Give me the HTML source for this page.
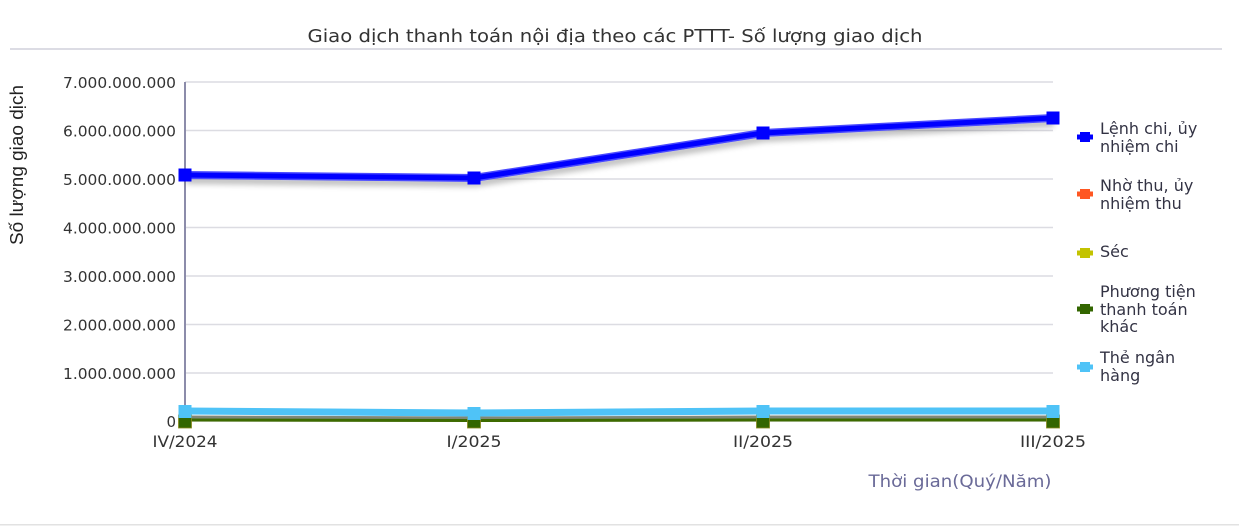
<!DOCTYPE html>
<html><head><meta charset="utf-8"><style>
html,body{margin:0;padding:0;background:#fff;width:1239px;height:530px;overflow:hidden}
svg{display:block}
text{font-family:"DejaVu Sans","Liberation Sans",sans-serif}
</style></head><body>
<svg width="1239" height="530" viewBox="0 0 1239 530" xmlns="http://www.w3.org/2000/svg">
<defs>
<filter id="sh" x="-5%" y="-50%" width="110%" height="300%">
<feGaussianBlur in="SourceAlpha" stdDeviation="3"/>
<feOffset dx="1" dy="5" result="b"/>
<feComponentTransfer><feFuncA type="linear" slope="0.25"/></feComponentTransfer>
<feMerge><feMergeNode/><feMergeNode in="SourceGraphic"/></feMerge>
</filter>
</defs>
<!-- title -->
<text x="615" y="42" font-size="18" fill="#333" text-anchor="middle" textLength="615" lengthAdjust="spacingAndGlyphs">Giao dịch thanh toán nội địa theo các PTTT- Số lượng giao dịch</text>
<rect x="10" y="48" width="1212" height="2" fill="#dcdce4"/>
<rect x="0" y="524" width="1239" height="1.5" fill="#e2e2e2"/>
<!-- y title -->
<text transform="translate(23,165) rotate(-90)" style="font-family:'Liberation Sans',sans-serif" font-size="18" fill="#222" text-anchor="middle" textLength="160" lengthAdjust="spacingAndGlyphs">Số lượng giao dịch</text>
<!-- grid -->
<g stroke="#dcdce2" stroke-width="1.5">
<line x1="185" y1="82" x2="1053" y2="82"/>
<line x1="185" y1="130.5" x2="1053" y2="130.5"/>
<line x1="185" y1="179" x2="1053" y2="179"/>
<line x1="185" y1="227.5" x2="1053" y2="227.5"/>
<line x1="185" y1="276" x2="1053" y2="276"/>
<line x1="185" y1="324.5" x2="1053" y2="324.5"/>
<line x1="185" y1="373" x2="1053" y2="373"/>
<line x1="185" y1="421" x2="1053" y2="421"/>
</g>
<line x1="185" y1="82" x2="185" y2="421" stroke="#8c8caa" stroke-width="2"/>
<!-- y labels -->
<g font-size="15" fill="#333" text-anchor="end">
<text x="176" y="88" textLength="113" lengthAdjust="spacingAndGlyphs">7.000.000.000</text>
<text x="176" y="136.5" textLength="113" lengthAdjust="spacingAndGlyphs">6.000.000.000</text>
<text x="176" y="185" textLength="113" lengthAdjust="spacingAndGlyphs">5.000.000.000</text>
<text x="176" y="233.5" textLength="113" lengthAdjust="spacingAndGlyphs">4.000.000.000</text>
<text x="176" y="282" textLength="113" lengthAdjust="spacingAndGlyphs">3.000.000.000</text>
<text x="176" y="330.5" textLength="113" lengthAdjust="spacingAndGlyphs">2.000.000.000</text>
<text x="176" y="379" textLength="113" lengthAdjust="spacingAndGlyphs">1.000.000.000</text>
<text x="176" y="427">0</text>
</g>
<!-- x labels -->
<g font-size="16" fill="#333" text-anchor="middle">
<text x="185" y="447" textLength="65" lengthAdjust="spacingAndGlyphs">IV/2024</text>
<text x="474" y="447" textLength="55" lengthAdjust="spacingAndGlyphs">I/2025</text>
<text x="763" y="447" textLength="60" lengthAdjust="spacingAndGlyphs">II/2025</text>
<text x="1053" y="447" textLength="66" lengthAdjust="spacingAndGlyphs">III/2025</text>
</g>
<text x="960" y="487" font-size="17" fill="#6a6a98" text-anchor="middle" textLength="183" lengthAdjust="spacingAndGlyphs">Thời gian(Quý/Năm)</text>
<!-- series -->
<polyline points="185,175 474,178 763,133 1053,118" fill="none" stroke="#4a4aff" stroke-width="8" stroke-linejoin="round" filter="url(#sh)"/>
<polyline points="185,175 474,178 763,133 1053,118" fill="none" stroke="#0000ff" stroke-width="5" stroke-linejoin="round"/>
<rect x="178.5" y="168.5" width="13" height="13" fill="#0000ff"/>
<rect x="467.5" y="171.5" width="13" height="13" fill="#0000ff"/>
<rect x="756.5" y="126.5" width="13" height="13" fill="#0000ff"/>
<rect x="1046.5" y="111.5" width="13" height="13" fill="#0000ff"/>
<polyline points="185,419 474,419 763,419 1053,419" fill="none" stroke="#ff5722" stroke-width="4"/>
<polyline points="185,419 474,419 763,419 1053,419" fill="none" stroke="#b8b800" stroke-width="4"/>
<polyline points="185,418 474,419 763,418 1053,418" fill="none" stroke="#808878" stroke-width="5"/>
<polyline points="185,420 474,420.5 763,420 1053,420" fill="none" stroke="#3d6a00" stroke-width="3"/>
<g fill="#336600" stroke="#8a8a20" stroke-width="0.8">
<rect x="178.5" y="415" width="13" height="13"/>
<rect x="467.5" y="415" width="13" height="13"/>
<rect x="756.5" y="415" width="13" height="13"/>
<rect x="1046.5" y="415" width="13" height="13"/>
</g>
<polyline points="185,411 474,413 763,411 1053,411" fill="none" stroke="#4fc3f7" stroke-width="7" stroke-linejoin="round"/>
<g fill="#4fc3f7">
<rect x="178.5" y="405" width="13" height="13"/>
<rect x="467.5" y="407" width="13" height="13"/>
<rect x="756.5" y="405" width="13" height="13"/>
<rect x="1046.5" y="405" width="13" height="13"/>
</g>
<!-- legend -->
<g>
<rect x="1077" y="134.5" width="16" height="5" fill="#0000ff"/><rect x="1080" y="132" width="10" height="10" fill="#0000ff"/>
<rect x="1077" y="191.5" width="16" height="5" fill="#ff5722"/><rect x="1080" y="189" width="10" height="10" fill="#ff5722"/>
<rect x="1077" y="250.5" width="16" height="5" fill="#c3c300"/><rect x="1080" y="248" width="10" height="10" fill="#c3c300"/>
<rect x="1077" y="306.5" width="16" height="5" fill="#336600"/><rect x="1080" y="304" width="10" height="10" fill="#336600"/>
<rect x="1077" y="364.5" width="16" height="5" fill="#4fc3f7"/><rect x="1080" y="362" width="10" height="10" fill="#4fc3f7"/>
</g>
<g font-size="16" fill="#333344">
<text x="1100" y="134">Lệnh chi, ủy</text>
<text x="1100" y="152">nhiệm chi</text>
<text x="1100" y="191">Nhờ thu, ủy</text>
<text x="1100" y="209">nhiệm thu</text>
<text x="1100" y="257">Séc</text>
<text x="1100" y="297">Phương tiện</text>
<text x="1100" y="315">thanh toán</text>
<text x="1100" y="332">khác</text>
<text x="1100" y="363">Thẻ ngân</text>
<text x="1100" y="381">hàng</text>
</g>
</svg>
</body></html>
